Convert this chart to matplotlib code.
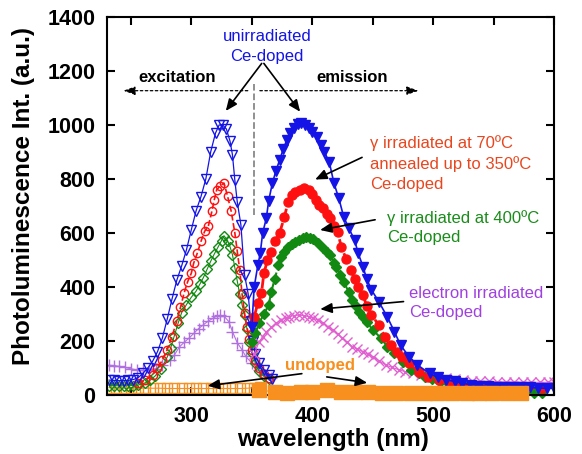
import matplotlib
matplotlib.use("Agg")
import matplotlib.pyplot as plt

plt.rcParams['font.family'] = ['Liberation Sans', 'DejaVu Sans']

# excitation spectra (open markers)
ex_blue_x = [232, 236, 240, 244, 248, 252, 256, 260, 264, 268, 272, 276, 280, 284, 288, 292, 296, 300, 304, 308,
             312, 316, 320, 323, 326, 329, 332, 334, 336, 338, 341, 344, 347, 349, 351, 353, 356, 360, 364, 367]
ex_blue_y = [55, 54, 53, 53, 54, 57, 64, 80, 100, 125, 160, 210, 280, 355, 425, 478, 538, 612, 683, 735,
             800, 900, 970, 1000, 1000, 985, 940, 890, 795, 715, 630, 445, 375, 275, 200, 150, 118, 94, 74, 59]

ex_red_x = [256, 262, 268, 272, 276, 280, 284, 288, 291, 294, 297, 300, 302, 305, 308, 311, 314, 317, 319, 321,
            324, 327, 330, 333, 336, 338, 340, 342, 344, 346, 348, 350, 353, 356, 360, 364]
ex_red_y = [45, 55, 75, 100, 128, 167, 216, 275, 324, 377, 420, 451, 489, 526, 569, 606, 624, 680, 723, 760,
            775, 785, 736, 680, 600, 532, 464, 373, 304, 253, 206, 167, 128, 99, 79, 64]

ex_green_x = [232, 236, 240, 244, 248, 252, 256, 262, 266, 270, 275, 280, 283, 286, 289, 292, 296, 300, 304, 307,
              310, 313, 316, 319, 322, 325, 327, 330, 332, 334, 336, 338, 340, 342, 344, 346, 348, 350, 353, 356,
              360, 364]
ex_green_y = [35, 34, 34, 34, 34, 35, 37, 45, 55, 70, 95, 140, 175, 220, 265, 305, 335, 362, 385, 410,
              435, 465, 495, 522, 547, 572, 590, 572, 549, 520, 471, 422, 373, 334, 295, 246, 197, 157, 118, 89,
              69, 59]

ex_purple_x = [232, 236, 240, 245, 250, 255, 260, 265, 271, 276, 282, 286, 290, 294, 298, 302, 306, 310, 314, 318,
               321, 324, 327, 331, 334, 338, 342, 345, 350, 356, 361, 366]
ex_purple_y = [110, 109, 106, 102, 97, 93, 91, 93, 98, 112, 128, 148, 177, 195, 210, 228, 246, 260, 274, 284,
               292, 295, 292, 272, 235, 193, 167, 143, 118, 93, 74, 64]

ex_orange_x = [232, 238, 244, 250, 256, 262, 268, 274, 280, 286, 292, 298, 304, 310, 316, 322, 328, 334, 340, 346,
               352, 357]
ex_orange_y = [27, 27, 26, 26, 25, 25, 25, 25, 24, 24, 24, 24, 24, 24, 24, 24, 24, 24, 24, 25,
               27, 30]

# emission spectra (filled markers)
em_blue_x = [350, 352, 355, 357, 359, 362, 364, 367, 370, 373, 376, 379, 382, 385, 388, 391, 394, 397, 400, 404,
             407, 410, 414, 418, 422, 426, 430, 435, 438, 442, 445, 449, 455, 462, 468, 473, 480, 487, 497, 504,
             511, 518, 524, 531, 538, 545, 552, 559, 566, 573, 580, 587, 594, 600]
em_blue_y = [250, 400, 480, 525, 600, 654, 720, 784, 830, 870, 910, 945, 970, 990, 1003, 1006, 1000, 988, 975, 957,
             926, 900, 864, 784, 728, 660, 620, 574, 525, 475, 430, 389, 346, 290, 234, 185, 142, 111, 80, 65,
             56, 50, 44, 38, 33, 32, 31, 31, 31, 30, 28, 26, 25, 25]

em_red_x = [352, 355, 358, 360, 363, 366, 369, 373, 377, 380, 383, 386, 390, 393, 397, 400, 403, 406, 409, 412,
            415, 418, 421, 424, 428, 432, 435, 438, 442, 445, 449, 455, 460, 465, 470, 474, 480, 488, 496, 505,
            514, 524, 534, 545, 560, 575, 590]
em_red_y = [290, 340, 377, 450, 500, 531, 570, 599, 660, 715, 741, 753, 760, 765, 759, 745, 722, 705, 691, 670,
            654, 625, 605, 549, 505, 463, 430, 401, 370, 330, 296, 260, 216, 185, 160, 142, 117, 86, 68, 55,
            42, 33, 30, 28, 26, 25, 24]

em_green_x = [350, 353, 356, 360, 364, 366, 369, 372, 374, 377, 380, 383, 386, 389, 392, 395, 398, 401, 405, 409,
              412, 415, 418, 420, 423, 426, 430, 433, 436, 439, 442, 445, 450, 457, 462, 468, 475, 482, 488, 493,
              499, 506, 513, 520, 527, 534, 541, 548, 555, 562, 569, 576, 583, 590]
em_green_y = [197, 230, 265, 300, 333, 380, 430, 480, 512, 530, 549, 560, 568, 575, 580, 586, 583, 578, 562, 543,
              530, 518, 490, 475, 445, 420, 383, 352, 330, 309, 290, 272, 241, 210, 179, 154, 123, 93, 80, 68,
              58, 49, 40, 34, 28, 24, 20, 17, 15, 12, 10, 8, 7, 7]

em_purple_x = [352, 356, 359, 362, 366, 370, 374, 378, 381, 385, 389, 393, 397, 401, 405, 409, 413, 417, 421, 425,
               429, 433, 437, 442, 446, 450, 455, 461, 466, 472, 477, 483, 490, 497, 504, 511, 518, 525, 532, 539,
               546, 553, 560, 567, 574, 581, 588, 595, 600]
em_purple_y = [150, 197, 215, 234, 250, 265, 277, 286, 290, 294, 296, 294, 290, 284, 277, 266, 252, 240, 225, 210,
               195, 179, 170, 160, 150, 142, 127, 111, 102, 93, 86, 80, 74, 68, 65, 62, 58, 55, 53, 51,
               50, 49, 48, 48, 47, 47, 47, 47, 47]

em_orange_x = [356, 369, 379, 391, 400, 412, 424, 435, 446, 458, 469, 482, 493, 503, 516, 528, 538, 549, 561, 573]
em_orange_y = [19, 11, 9, 10, 10, 19, 10, 10, 10, 8, 8, 8, 7, 8, 7, 7, 7, 7, 7, 7]

x_ticks = [250, 300, 350, 400, 450, 500, 550, 600]
x_tick_labels = ['', '300', '', '400', '', '500', '', '600']
y_ticks = [0, 200, 400, 600, 800, 1000, 1200, 1400]

blue = '#1414e6'
red = '#ff1010'
green = '#128a12'
purple_ex = '#b070e0'
purple_em = '#e060d0'
orange = '#f7901e'

fig = plt.figure(figsize=(5.82, 4.54), dpi=100)
ax = fig.add_axes([0.1833, 0.130, 0.7687, 0.8326])

# excitation
ax.plot(ex_purple_x, ex_purple_y, '-', marker='+', color=purple_ex, lw=0.8, ms=8, mew=1)
ax.plot(ex_orange_x, ex_orange_y, '-', marker='s', color=orange, lw=0.8, ms=6.5, mfc='none', mew=1)
ax.plot(ex_green_x, ex_green_y, '-', marker='D', color=green, lw=0.8, ms=5.5, mfc='none', mew=1)
ax.plot(ex_red_x, ex_red_y, '--', marker='o', color=red, lw=1.2, ms=6, mfc='none', mew=1)
ax.plot(ex_blue_x, ex_blue_y, '-', marker='v', color=blue, lw=0.9, ms=7, mfc='none', mew=1)

# emission
ax.plot(em_purple_x, em_purple_y, '-', marker='x', color=purple_em, lw=0.8, ms=7, mew=1)
ax.plot(em_green_x, em_green_y, '--', marker='D', color=green, lw=1.5, ms=5.5, mec=green, clip_on=False)
ax.plot(em_red_x, em_red_y, '--', marker='o', color=red, lw=2, ms=6.5)
ax.plot(em_blue_x, em_blue_y, '-', marker='v', color=blue, lw=1.2, ms=7)
ax.plot(em_orange_x, em_orange_y, '-', marker='s', color=orange, lw=0.8, ms=9.5, clip_on=False, zorder=3)

ax.set_xlim(230, 600)
ax.set_ylim(0, 1400)
ax.set_xticks(x_ticks)
ax.set_xticklabels(x_tick_labels)
ax.set_yticks(y_ticks)
ax.tick_params(direction='in', length=6, width=1.5, top=True, right=True,
               labelsize=15.5, pad=8)
for lab in ax.get_xticklabels() + ax.get_yticklabels():
    lab.set_fontweight('bold')
for sp in ax.spines.values():
    sp.set_linewidth(1.5)
    sp.set_zorder(2.5)

ax.set_xlabel('wavelength (nm)', fontsize=17.5, fontweight='bold', va='center')
ax.xaxis.set_label_coords(0.506, -0.119)
ax.set_ylabel('Photoluminescence Int. (a.u.)', fontsize=17.5, fontweight='bold', va='center')
ax.yaxis.set_label_coords(-0.185, 0.526)

arrow = dict(arrowstyle='-|>,head_length=0.7,head_width=0.3', color='k', lw=1.2,
             shrinkA=0, shrinkB=0)

# excitation / emission guides
ax.plot([352, 352], [667, 1150], '--', color='#888888', lw=1.3)
ax.annotate('', xy=(243.8, 1127), xytext=(346.7, 1127),
            arrowprops=dict(arrowstyle='-|>,head_length=0.7,head_width=0.25', color='k', lw=0.9,
                            ls=(0, (2, 2)), shrinkA=0, shrinkB=0))
ax.annotate('', xy=(487.9, 1127), xytext=(356.7, 1127),
            arrowprops=dict(arrowstyle='-|>,head_length=0.7,head_width=0.25', color='k', lw=0.9,
                            ls=(0, (2, 2)), shrinkA=0, shrinkB=0))
ax.text(288, 1176, 'excitation', fontsize=12, fontweight='bold', ha='center', va='center')
ax.text(432.7, 1176, 'emission', fontsize=12, fontweight='bold', ha='center', va='center')

ax.text(362.5, 1292, 'unirradiated\nCe-doped', color=blue, fontsize=12, ha='center', va='center',
        linespacing=1.4)
ax.annotate('', xy=(328.5, 1052), xytext=(358.2, 1228), arrowprops=arrow)
ax.annotate('', xy=(390, 1049), xytext=(360, 1228), arrowprops=arrow)

ax.text(448, 858, u'\u03b3 irradiated at 70\u00baC\nannealed up to 350\u00baC\nCe-doped',
        color='#e8461e', fontsize=12, ha='left', va='center', linespacing=1.4)
ax.annotate('', xy=(402.4, 798), xytext=(441.2, 880), arrowprops=arrow)

ax.text(462, 620, u'\u03b3 irradiated at 400\u00baC\nCe-doped',
        color='#1a8c1a', fontsize=12, ha='left', va='center', linespacing=1.4)
ax.annotate('', xy=(406.5, 611), xytext=(452, 649), arrowprops=arrow)

ax.text(480, 341, 'electron irradiated\nCe-doped', color='#a040e0', fontsize=12,
        ha='left', va='center', linespacing=1.4)
ax.annotate('', xy=(406.6, 318), xytext=(475.5, 346), arrowprops=arrow)

ax.text(406.5, 110, 'undoped', color=orange, fontsize=12, fontweight='bold',
        ha='center', va='center')
ax.annotate('', xy=(313.5, 34), xytext=(391.4, 79), arrowprops=arrow)
ax.annotate('', xy=(445.5, 45), xytext=(412, 67), arrowprops=arrow)

fig.savefig('out.png', dpi=100)
